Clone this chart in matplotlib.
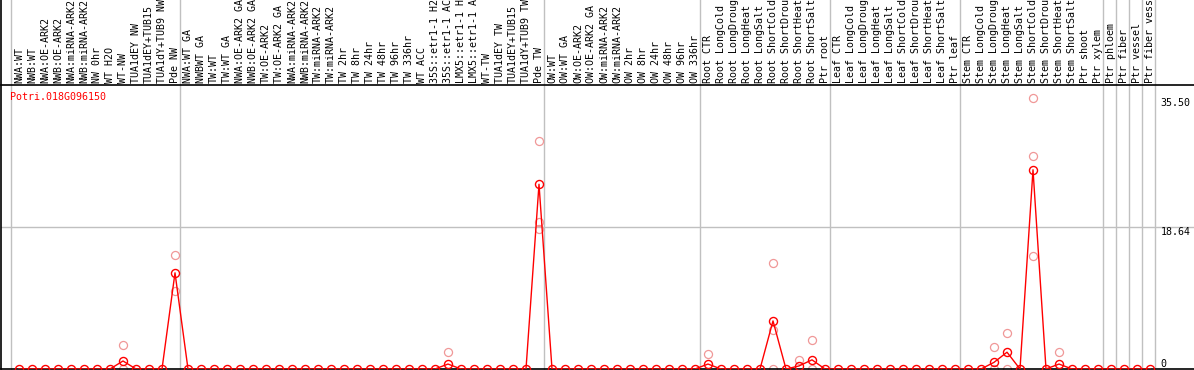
import matplotlib
matplotlib.use("Agg")
import matplotlib.pyplot as plt
import matplotlib.transforms as mtransforms

gene_name = "Potri.018G096150"

# sample labels as shown (truncated to 14 characters)
labels = [
    "NWA:WT", "NWB:WT", "NWA:OE-ARK2", "NWB:OE-ARK2", "NWA:miRNA-ARK2",
    "NWB:miRNA-ARK2", "NW 0hr", "WT H2O", "WT-NW", "TUA1dEY NW",
    "TUA1dEY+TUB15", "TUA1dY+TUB9 NW", "Pde NW",
    "NWA:WT GA", "NWBWT GA", "TW:WT", "TW:WT GA", "NWA:OE-ARK2 GA",
    "NWB:OE-ARK2 GA", "TW:OE-ARK2", "TW:OE-ARK2 GA", "NWA:miRNA-ARK2",
    "NWB:miRNA-ARK2", "TW:miRNA-ARK2", "TW:miRNA-ARK2", "TW 2hr", "TW 8hr",
    "TW 24hr", "TW 48hr", "TW 96hr", "TW 336hr", "WT ACC", "35S::etr1-1 H2",
    "35S::etr1-1 AC", "LMX5::etr1-1 H", "LMX5::etr1-1 A", "WT-TW",
    "TUA1dEY TW", "TUA1dEY+TUB15", "TUA1dY+TUB9 TW", "Pde TW",
    "OW:WT", "OW:WT GA", "OW:OE-ARK2", "OW:OE-ARK2 GA", "OW:miRNA-ARK2",
    "OW:miRNA-ARK2", "OW 2hr", "OW 8hr", "OW 24hr", "OW 48hr", "OW 96hr",
    "OW 336hr",
    "Root CTR", "Root LongCold", "Root LongDroug", "Root LongHeat",
    "Root LongSalt", "Root ShortCold", "Root ShortDrou", "Root ShortHeat",
    "Root ShortSalt", "Ptr root",
    "Leaf CTR", "Leaf LongCold", "Leaf LongDroug", "Leaf LongHeat",
    "Leaf LongSalt", "Leaf ShortCold", "Leaf ShortDrou", "Leaf ShortHeat",
    "Leaf ShortSalt", "Ptr leaf",
    "Stem CTR", "Stem LongCold", "Stem LongDroug", "Stem LongHeat",
    "Stem LongSalt", "Stem ShortCold", "Stem ShortDrou", "Stem ShortHeat",
    "Stem ShortSalt", "Ptr shoot", "Ptr xylem",
    "Ptr phloem", "Ptr fiber", "Ptr vessel", "Ptr fiber vess",
]

# mean expression per sample
means = [
    0, 0, 0, 0, 0, 0, 0, 0, 1.05, 0, 0, 0, 12.6,
    0, 0, 0, 0, 0, 0, 0, 0, 0, 0, 0, 0, 0, 0, 0, 0, 0, 0, 0, 0, 0.65,
    0, 0, 0, 0, 0, 0, 24.2,
    0, 0, 0, 0, 0, 0, 0, 0, 0, 0, 0, 0,
    0.65, 0, 0, 0, 0, 6.3, 0, 0.4, 1.2, 0,
    0, 0, 0, 0, 0, 0, 0, 0, 0, 0,
    0, 0, 0.87, 2.2, 0, 26.1, 0, 0.65, 0, 0, 0,
    0, 0, 0, 0,
]

# individual replicates (sample index, value)
rep_idx = [8, 8, 12, 12, 33, 40, 40, 40, 53, 58, 58, 58, 60, 61, 61,
           75, 75, 76, 76, 78, 78, 78, 80]
rep_val = [3.2, 0, 14.9, 10.2, 2.2, 29.9, 19.3, 18.4, 2.0, 13.85, 5.1, 0,
           1.2, 3.8, 0, 2.84, 0, 4.7, 0, 35.5, 27.9, 14.85, 2.2]

ytick_vals = [0, 18.64, 35.50]
group_ends = [-1, 12, 40, 52, 62, 72, 83, 84, 85, 86, 87]

W, H = 1194, 370
fig = plt.figure(figsize=(W / 100, H / 100), dpi=100)
ax_h = 284 / H
ax = fig.add_axes([1 / W, 1 / H, 1 - 1 / W, ax_h])

xs = list(range(len(labels)))
ax.set_xlim((1 - 19) / 13, (W - 19) / 13)
ax.set_ylim(0, max(rep_val) * 1.048)

red = "#ff0000"
pink = "#f09898"
grid = "#c0c0c0"
mono = "DejaVu Sans Mono"
fs = 7.2

top_frac = (H - 1) / 284
for g in group_ends:
    ax.axvline(g + 0.38, ymin=0, ymax=top_frac, color=grid, lw=1,
               clip_on=False, zorder=0)
ax.axhline(ytick_vals[1], color=grid, lw=1, zorder=0)
ax.axvline(ax.get_xlim()[0], ymin=0, ymax=top_frac, color="black", lw=1.2,
           clip_on=False, zorder=5)

ax.plot(rep_idx, rep_val, linestyle="none", marker="o", ms=5.8,
        mfc="none", mec=pink, mew=0.9, zorder=2)
ax.plot(xs, means, color=red, lw=1.0, marker="o", ms=5.8, mfc="none",
        mec=red, mew=1.0, zorder=3)

# sample labels along the top
ax.xaxis.tick_top()
ax.set_xticks(xs)
ax.set_xticklabels(labels, rotation=90, fontsize=fs, family=mono,
                   va="bottom", ha="center")
ax.tick_params(axis="x", length=0, pad=1.5)
ax.set_yticks([])

# value labels on the right, inside the plot
trans = mtransforms.blended_transform_factory(ax.transAxes, ax.transData)
for v in ytick_vals:
    txt = f"{v:.2f}" if v else "0"
    ax.text(0.972, v, txt, transform=trans, fontsize=fs, family=mono,
            ha="left", va="bottom" if v == 0 else "top")

ax.text(0.0075, 1 - 12 / 284, gene_name, transform=ax.transAxes,
        color=red, fontsize=fs, family=mono, ha="left", va="center")

for side in ["left", "right"]:
    ax.spines[side].set_visible(False)
for side in ["top", "bottom"]:
    ax.spines[side].set_linewidth(1.2)

fig.savefig("out.png", dpi=100)
